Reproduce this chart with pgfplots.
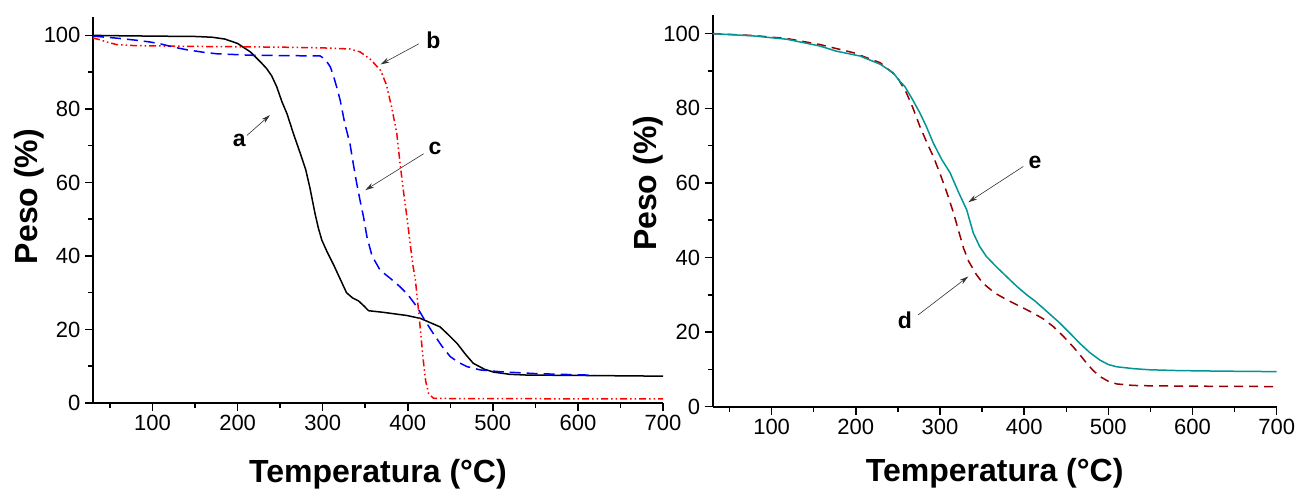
\documentclass[border=0pt]{standalone}
\usepackage{pgfplots}
\pgfplotsset{compat=1.18}
\usepackage{fontspec}
\setmainfont{Liberation Sans}
\usetikzlibrary{arrows.meta}
\definecolor{tealc}{RGB}{0,150,150}
\definecolor{darkred}{RGB}{150,0,0}
\tikzset{
  anno/.style={font=\fontsize{23}{27}\selectfont\bfseries},
  arr/.style={-{Stealth[length=9pt,width=5pt]}, line width=0.6pt, black!80},
}
\pgfplotsset{
  tgastyle/.style={
    scale only axis,
    anchor=south west,
    xmin=30, xmax=700, ymin=0, ymax=105,
    axis lines*=left,
    axis line style={line width=1.8pt},
    xtick={100,200,...,700},
    minor xtick={50,150,...,650},
    ytick={0,20,...,100},
    minor ytick={10,30,...,90},
    tick align=outside,
    major tick length=8pt,
    minor tick length=5pt,
    every tick/.style={line width=1.5pt, black},
    /pgf/number format/assume math mode=true,
    tick label style={font=\fontsize{22}{26}\selectfont},
    yticklabel style={anchor=east, xshift=-1pt},
    xticklabel style={anchor=north, yshift=-1pt},
    label style={font=\fontsize{32}{38}\selectfont\bfseries},
    xlabel={Temperatura (°C)},
    ylabel={Peso (\%)},
    clip=false,
  },
}
\begin{document}
\begin{tikzpicture}
\useasboundingbox (0,0) rectangle (1298pt,488pt);
% ---------------- left panel ----------------
\begin{axis}[tgastyle,
  at={(93pt,85pt)}, width=570pt, height=386pt,
  xlabel style={at={(axis description cs:0.5,-0.2047)}, anchor=base},
  ylabel style={at={(axis description cs:-0.0982,0.535)}, anchor=base, rotate=0},
]
\addplot[black, line width=1.5pt] coordinates {
(30,100) (60,99.9) (100,99.8) (150,99.7) (170,99.5) (185,99) (200,97.8) (215,95.5) (228,92.5) (234,91) (240,89) (246,86) (252,82) (258,78.7) (266,73) (275,67) (280,63.5) (285,58.5) (291,51.5) (295,47.5) (299,44.3) (305,41.2) (313,37.5) (320,34) (328,30) (335,28.6) (342,27.8) (348,26.5) (354,25.1) (370,24.7) (399,23.8) (415,23) (425,22) (438,20.7) (448,18.5) (458,16.2) (468,13.2) (477,10.8) (490,9.2) (501,8.4) (520,7.8) (540,7.6) (600,7.5) (700,7.3)
};
\addplot[red, line width=1.5pt, dash pattern=on 7pt off 3pt on 1.5pt off 3pt on 1.5pt off 3pt] coordinates {
(30,99.3) (40,98.7) (46,98.2) (58,97.5) (80,97.2) (150,97) (250,96.8) (300,96.6) (332,96.3) (344,95.5) (356,93.5) (368,90.5) (375,86.5) (381,80.5) (387,73.5) (391,65) (395,57.5) (399,50.6) (403,43) (406,37.5) (409,33.4) (413,24.4) (416,17) (418.6,10.8) (421,6) (424.5,2.6) (430,1.3) (450,1.2) (700,1.1)
};
\addplot[blue, line width=1.5pt, dash pattern=on 11pt off 6pt] coordinates {
(30,99.8) (60,99.2) (80,98.7) (97,98.2) (109,97.7) (125,96.8) (140,96.1) (160,95.4) (175.5,95) (215,94.6) (297,94.4) (303,93.5) (309,91.4) (313,88.7) (317,85.5) (320.6,82.3) (326,76) (332,70.6) (336,65) (340,59.7) (344,55) (348,50.6) (352,45.2) (358,40) (367.6,36.1) (380,33.8) (391,31.6) (400,29.5) (410.7,26.2) (420,22.5) (430,18.9) (440,15.5) (450,12.6) (460,11) (469.6,9.9) (485,9) (509,8.5) (550,8.0) (611,7.6) (620,7.6)
};
\draw[arr] (axis cs:211,72.8) -- (axis cs:238,78.3);
\node[anno] at (axis cs:202,71.5) {a};
\draw[arr] (axis cs:413,97.7) -- (axis cs:368,92.1);
\node[anno] at (axis cs:430,98.6) {b};
\draw[arr] (axis cs:418.6,67.8) -- (axis cs:350,57.9);
\node[anno] at (axis cs:432,69.2) {c};
\end{axis}
% ---------------- right panel ----------------
\begin{axis}[tgastyle,
  at={(712.7pt,81.3pt)}, width=564pt, height=391.7pt,
  xlabel style={at={(axis description cs:0.5,-0.192)}, anchor=base},
  ylabel style={at={(axis description cs:-0.0988,0.570)}, anchor=base, rotate=0},
]
\addplot[darkred, line width=1.5pt, dash pattern=on 9pt off 6pt] coordinates {
(30,100) (78,99.5) (118,98.7) (157,97.1) (197,94.9) (229,92.2) (248.5,88.6) (260,84.2) (268,80) (276,75.2) (284,71) (292,67.1) (300,62.5) (308,57.5) (316,52) (322,47.2) (328,42.5) (334,39) (343,35.5) (351,33.1) (365,30.5) (379,28.7) (395,26.9) (410.8,25.1) (423,23.5) (434.5,21.5) (446,19) (458,16.1) (466,14) (474,11.7) (482,9.7) (490,8.1) (500,6.8) (510,6.1) (530,5.7) (549,5.6) (600,5.5) (700,5.4)
};
\addplot[tealc, line width=1.5pt] coordinates {
(30,100) (78,99.4) (118,98.5) (157,96.7) (177,95.3) (205,94) (229,91.8) (244.5,89.5) (252,87.3) (258,85.9) (267,82.5) (276,78.8) (284,75) (292,70.7) (302,66.3) (312,62.7) (322,57.5) (331.7,52.8) (339.5,46.6) (347,43) (355,40.3) (367,37.5) (379,34.9) (391,32.3) (403,30) (413,28.3) (422.6,26.4) (432,24.5) (442.5,22.4) (454,19.8) (466,17) (478,14.5) (490,12.5) (500,11.3) (510,10.7) (530,10.2) (549,9.9) (580,9.7) (609,9.6) (650,9.5) (700,9.4)
};
\draw[arr] (axis cs:399,64.4) -- (axis cs:333.6,54.8);
\node[anno] at (axis cs:413,65.4) {e};
\draw[arr] (axis cs:274,24.6) -- (axis cs:333.6,34.9);
\node[anno] at (axis cs:258.4,23.3) {d};
\end{axis}
\end{tikzpicture}
\end{document}
